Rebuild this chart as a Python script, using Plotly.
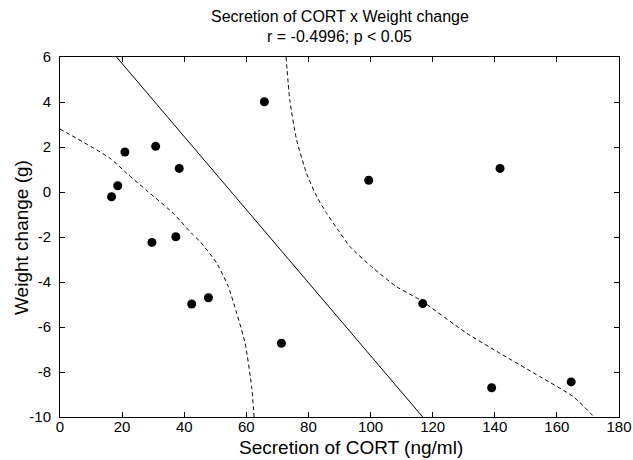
import plotly.graph_objects as go

# Data
cort_x = [16.6, 18.6, 20.9, 30.8, 38.4, 29.6, 37.3, 42.4, 47.8, 65.8, 71.3,
          99.4, 116.8, 139.0, 141.7, 164.6]
weight_y = [-0.21, 0.28, 1.78, 2.03, 1.05, -2.24, -1.99, -4.98, -4.70, 4.01, -6.72,
            0.52, -4.96, -8.70, 1.05, -8.44]

fit_x = [18.2, 116.8]
fit_y = [6.0, -10.0]

upper_x = [72.8, 74.0, 76.2, 79.4, 82.7, 85.9, 89.9, 93.4, 100.9, 108.4, 116.0,
           131.0, 141.7, 154.6, 165.3, 172.0]
upper_y = [6.0, 4.09, 2.31, 0.83, -0.21, -0.95, -1.76, -2.43, -3.39, -4.21, -4.80,
           -6.28, -7.17, -8.21, -9.10, -10.0]

lower_x = [0.0, 16.1, 21.5, 28.4, 36.5, 42.4, 45.1, 50.5, 54.2, 56.9, 59.6, 61.7, 62.5]
lower_y = [2.8, 1.50, 0.83, 0.01, -0.95, -1.84, -2.2, -3.17, -4.21, -5.39, -6.72,
           -8.65, -10.0]

x_ticks = [0, 20, 40, 60, 80, 100, 120, 140, 160, 180]
y_ticks = [-10, -8, -6, -4, -2, 0, 2, 4, 6]

title_lines = ["Secretion of CORT x Weight change", "r = -0.4996; p &lt; 0.05"]
x_label = "Secretion of CORT (ng/ml)"
y_label = "Weight change (g)"

FONT = "Liberation Sans, Arial, sans-serif"

fig = go.Figure()
dash_line = dict(color="black", width=1, dash="4px,3px", shape="spline", smoothing=0.6)
fig.add_trace(go.Scatter(x=lower_x, y=lower_y, mode="lines", line=dash_line,
                         hoverinfo="skip", showlegend=False))
fig.add_trace(go.Scatter(x=upper_x, y=upper_y, mode="lines", line=dash_line,
                         hoverinfo="skip", showlegend=False))
fig.add_trace(go.Scatter(x=fit_x, y=fit_y, mode="lines",
                         line=dict(color="black", width=1),
                         hoverinfo="skip", showlegend=False))
fig.add_trace(go.Scatter(x=cort_x, y=weight_y, mode="markers",
                         marker=dict(color="black", size=9, line=dict(width=0)),
                         showlegend=False))

axis_common = dict(
    showgrid=False, zeroline=False, showline=True, linecolor="black", linewidth=1,
    mirror="ticks", ticks="inside", ticklen=5, tickcolor="black", tickwidth=1,
    tickfont=dict(family=FONT, size=15, color="black"), automargin=False,
)

PLOT_TOP, PLOT_H, PLOT_L, PLOT_W = 57, 360, 60, 559

def py(p):
    return 1 + (PLOT_TOP - p) / PLOT_H

def px(p):
    return (p - PLOT_L) / PLOT_W

annotations = [
    dict(text=title_lines[0], x=0.5, y=py(17), xref="paper", yref="paper",
         xanchor="center", yanchor="middle", showarrow=False,
         font=dict(family=FONT, size=16, color="black")),
    dict(text=title_lines[1], x=0.5, y=py(37), xref="paper", yref="paper",
         xanchor="center", yanchor="middle", showarrow=False,
         font=dict(family=FONT, size=16, color="black")),
    dict(text=x_label, x=px(351), y=py(448), xref="paper", yref="paper",
         xanchor="center", yanchor="middle", showarrow=False,
         font=dict(family=FONT, size=19, color="black")),
    dict(text=y_label, x=px(21), y=py(238), xref="paper", yref="paper",
         xanchor="center", yanchor="middle", showarrow=False, textangle=-90,
         font=dict(family=FONT, size=19, color="black")),
]

fig.update_layout(
    width=633, height=460,
    margin=dict(l=PLOT_L, r=633 - PLOT_L - PLOT_W, t=PLOT_TOP, b=460 - PLOT_TOP - PLOT_H),
    paper_bgcolor="white", plot_bgcolor="white",
    font=dict(family=FONT, color="black"),
    xaxis=dict(range=[0, 180], tickvals=x_ticks, ticktext=[str(v) for v in x_ticks],
               ticklabelstandoff=-4, **axis_common),
    yaxis=dict(range=[-10, 6], tickvals=y_ticks, ticktext=[str(v) for v in y_ticks],
               ticklabelstandoff=5, **axis_common),
    annotations=annotations,
)

fig.write_html("out.html")
